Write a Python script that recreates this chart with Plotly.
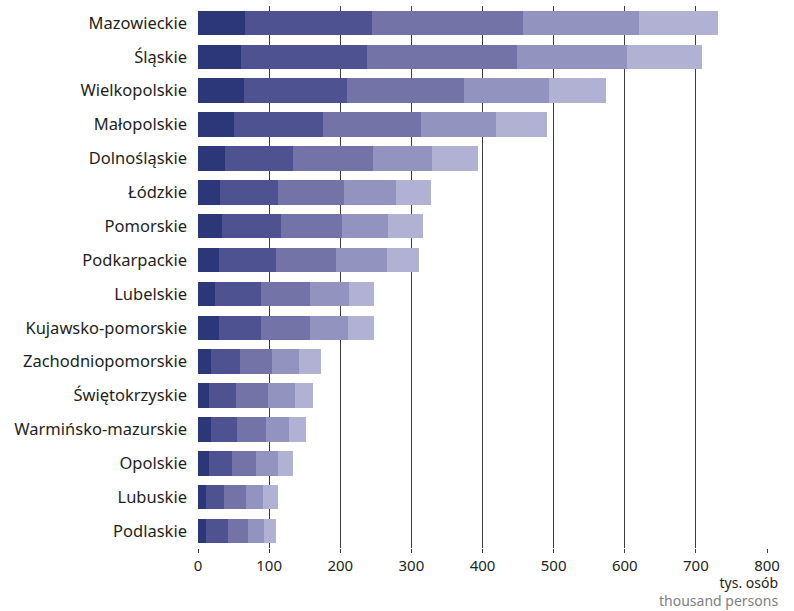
import plotly.graph_objects as go

regions = ["Mazowieckie", "Śląskie", "Wielkopolskie", "Małopolskie", "Dolnośląskie",
           "Łódzkie", "Pomorskie", "Podkarpackie", "Lubelskie", "Kujawsko-pomorskie",
           "Zachodniopomorskie", "Świętokrzyskie", "Warmińsko-mazurskie", "Opolskie",
           "Lubuskie", "Podlaskie"]

seg1 = [66, 61, 65, 51, 38, 31, 34, 29, 24, 29, 18, 16, 18, 15, 11, 11]
seg2 = [178, 177, 145, 125, 95, 81, 83, 80, 64, 60, 41, 38, 37, 33, 25, 31]
seg3 = [213, 210, 164, 137, 113, 93, 85, 85, 69, 69, 45, 45, 40, 34, 31, 28]
seg4 = [163, 155, 119, 106, 83, 73, 65, 72, 55, 53, 38, 37, 33, 30, 25, 23]
seg5 = [111, 105, 80, 71, 64, 50, 49, 45, 36, 36, 31, 25, 24, 22, 20, 16]

series = [seg1, seg2, seg3, seg4, seg5]
colors = ["#2c3779", "#4e5290", "#7473a7", "#9393c0", "#b1b1d3"]

tick_vals = [0, 100, 200, 300, 400, 500, 600, 700, 800]

fig = go.Figure()
for vals, col in zip(series, colors):
    fig.add_trace(go.Bar(
        y=regions, x=vals, orientation="h",
        marker=dict(color=col, line=dict(width=0)),
        showlegend=False, hoverinfo="x+y"))

fig.update_layout(
    barmode="stack",
    bargap=0.28,
    width=794, height=611,
    margin=dict(l=198, r=27, t=6, b=63),
    paper_bgcolor="white", plot_bgcolor="white",
    font=dict(family="Noto Sans", size=16, color="#231f20"),
    xaxis=dict(range=[0, 800], tickvals=tick_vals, showgrid=True,
               gridcolor="#3c3c3c", gridwidth=1, zeroline=False,
               ticks="outside", ticklen=4, tickcolor="#3c3c3c",
               showline=False, tickfont=dict(size=15), automargin=False),
    yaxis=dict(autorange="reversed", showgrid=False, zeroline=False,
               showline=False, ticks="", ticklabelstandoff=10,
               tickfont=dict(size=16.5), automargin=False),
    annotations=[
        dict(text="tys. osób<br><span style='color:#808080'>thousand persons</span>",
             xref="paper", yref="paper", x=1, y=0, align="right",
             xanchor="right", yanchor="top", xshift=13, yshift=-23,
             showarrow=False, font=dict(size=14, color="#231f20")),
    ],
)

fig.write_html("out.html", config={"displayModeBar": False},
               post_script="document.body.style.margin='0';document.body.style.overflow='hidden';")
